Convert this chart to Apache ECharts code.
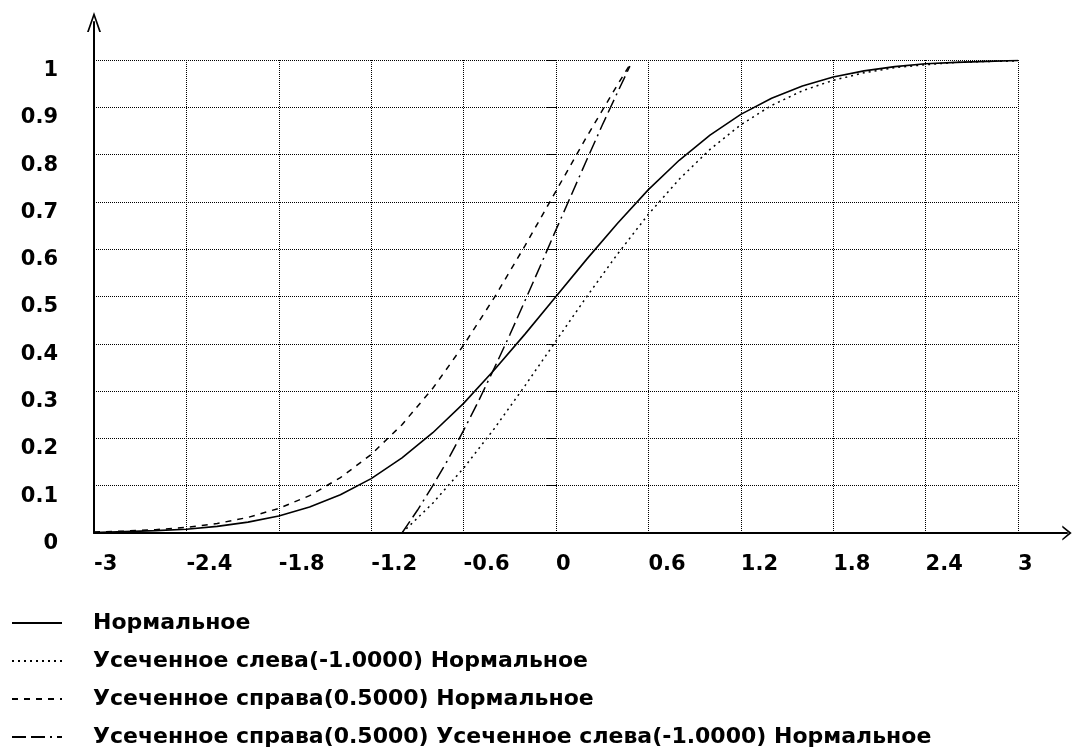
<!DOCTYPE html>
<html>
<head>
<meta charset="utf-8">
<script src="https://cdn.jsdelivr.net/npm/echarts@6/dist/echarts.min.js"></script>
<style>
  html, body { margin: 0; padding: 0; background: #fff; }
  #chart { width: 1073px; height: 747px; }
</style>
</head>
<body>
<div id="chart"></div>
<script>
// Axis ticks
const xMin = -3, xMax = 3, xStep = 0.6;
const yMin = 0, yMax = 1, yStep = 0.1;
const xTickLabels = ['-3', '-2.4', '-1.8', '-1.2', '-0.6', '0', '0.6', '1.2', '1.8', '2.4', '3'];
const yTickLabels = ['0', '0.1', '0.2', '0.3', '0.4', '0.5', '0.6', '0.7', '0.8', '0.9', '1'];

// Series names
const seriesNames = [
  'Нормальное',
  'Усеченное слева(-1.0000) Нормальное',
  'Усеченное справа(0.5000) Нормальное',
  'Усеченное справа(0.5000) Усеченное слева(-1.0000) Нормальное'
];

// Normal distribution function
const normX = [-3, -2.8, -2.6, -2.4, -2.2, -2, -1.8, -1.6, -1.4, -1.2, -1, -0.8, -0.6, -0.4, -0.2, 0,
               0.2, 0.4, 0.6, 0.8, 1, 1.2, 1.4, 1.6, 1.8, 2, 2.2, 2.4, 2.6, 2.8, 3];
const normY = [0.001, 0.003, 0.005, 0.008, 0.014, 0.023, 0.036, 0.055, 0.081, 0.115, 0.159, 0.212, 0.274, 0.345, 0.421, 0.500,
               0.579, 0.655, 0.726, 0.788, 0.841, 0.885, 0.919, 0.945, 0.964, 0.977, 0.986, 0.992, 0.995, 0.997, 0.999];

// Truncated on the left at -1
const leftX = [-1, -0.8, -0.6, -0.4, -0.2, 0, 0.2, 0.4, 0.6, 0.8, 1, 1.2, 1.4, 1.6, 1.8, 2, 2.2, 2.4, 2.6, 2.8, 3];
const leftY = [0, 0.063, 0.137, 0.221, 0.312, 0.406, 0.500, 0.590, 0.674, 0.748, 0.811, 0.863, 0.904, 0.935, 0.957, 0.973,
               0.984, 0.990, 0.995, 0.997, 0.998];

// Truncated on the right at 0.5
const rightX = [-3, -2.8, -2.6, -2.4, -2.2, -2, -1.8, -1.6, -1.4, -1.2, -1, -0.8, -0.6, -0.4, -0.2, 0, 0.2, 0.4, 0.48];
const rightY = [0.002, 0.004, 0.007, 0.012, 0.020, 0.033, 0.052, 0.079, 0.117, 0.166, 0.229, 0.306, 0.397, 0.498, 0.608,
                0.723, 0.838, 0.948, 0.990];

// Truncated on both sides: [-1, 0.5]
const bothX = [-1, -0.9, -0.8, -0.7, -0.6, -0.5, -0.4, -0.3, -0.2, -0.1, 0, 0.1, 0.2, 0.3, 0.4, 0.48];
const bothY = [0, 0.048, 0.100, 0.156, 0.217, 0.281, 0.349, 0.419, 0.492, 0.566, 0.641, 0.715, 0.789, 0.862, 0.932, 0.987];

const FONT = 'DejaVu Sans';
const INK = '#000';

const pairs = (xs, ys) => xs.map((x, i) => [x, ys[i]]);
const tickIndex = (v, min, step) => Math.round((v - min) / step);

// open arrow heads for the axis ends (pointing up; ECharts rotates them)
const arrowUp = 'path://M7,0 L14,20 L12.2,20 L7,5 L1.8,20 L0,20 Z';
const arrowSide = 'path://M7,0 L15,10 L13,10 L7,3 L1,10 L-1,10 Z';

const axisFont = { color: INK, fontFamily: FONT, fontWeight: 'bold', fontSize: 21 };
const legendFont = { color: INK, fontFamily: FONT, fontWeight: 'bold', fontSize: 22 };
const dotted = { color: INK, width: 1, type: [1, 1] };

const chart = echarts.init(document.getElementById('chart'), null, { renderer: 'canvas' });

const lineSeries = (name, data, lineType, width) => ({
  name: name,
  type: 'line',
  xAxisIndex: 0,
  yAxisIndex: 0,
  data: data,
  showSymbol: false,
  symbol: 'none',
  smooth: false,
  itemStyle: { color: INK },
  lineStyle: { color: INK, width: width, type: lineType },
  emphasis: { disabled: true }
});

chart.setOption({
  animation: false,
  backgroundColor: '#fff',
  grid: [
    { left: 94, right: 55, top: 60, bottom: 214 },
    { left: 94, right: 6, top: 22, bottom: 214 }
  ],
  xAxis: [
    {
      gridIndex: 0, type: 'value', min: xMin, max: xMax, interval: xStep,
      axisLine: { show: false },
      axisTick: { show: false },
      splitLine: { show: true, lineStyle: dotted },
      axisLabel: Object.assign({
        margin: 21, align: 'left',
        formatter: v => xTickLabels[tickIndex(v, xMin, xStep)]
      }, axisFont)
    },
    {
      gridIndex: 1, type: 'value', min: 0, max: 1,
      axisLine: { show: true, lineStyle: { color: INK, width: 2 }, symbol: ['none', arrowSide], symbolSize: [15, 10] },
      axisTick: { show: false }, axisLabel: { show: false }, splitLine: { show: false }
    }
  ],
  yAxis: [
    {
      gridIndex: 0, type: 'value', min: yMin, max: yMax, interval: yStep,
      axisLine: { show: false },
      axisTick: { show: true, length: 9, lineStyle: dotted },
      splitLine: { show: true, lineStyle: dotted },
      axisLabel: Object.assign({
        margin: 36, verticalAlign: 'top',
        formatter: v => yTickLabels[tickIndex(v, yMin, yStep)]
      }, axisFont)
    },
    {
      gridIndex: 1, type: 'value', min: 0, max: 1,
      axisLine: { show: true, lineStyle: { color: INK, width: 2 }, symbol: ['none', arrowUp], symbolSize: [14, 20] },
      axisTick: { show: false }, axisLabel: { show: false }, splitLine: { show: false }
    }
  ],
  legend: {
    orient: 'vertical',
    left: 11, top: 612, height: 150, padding: 0,
    itemWidth: 50, itemHeight: 14, itemGap: 16,
    selectedMode: false,
    itemStyle: { color: 'transparent', borderWidth: 0, opacity: 0 },
    textStyle: Object.assign({ padding: [0, 0, 0, 26] }, legendFont),
    data: seriesNames
  },
  series: [
    lineSeries(seriesNames[0], pairs(normX, normY), 'solid', 1.6),
    lineSeries(seriesNames[1], pairs(leftX, leftY), [2, 4], 1.5),
    lineSeries(seriesNames[2], pairs(rightX, rightY), [6, 6], 1.5),
    lineSeries(seriesNames[3], pairs(bothX, bothY), [14, 5, 14, 5, 2, 5], 1.5)
  ]
});
</script>
</body>
</html>
